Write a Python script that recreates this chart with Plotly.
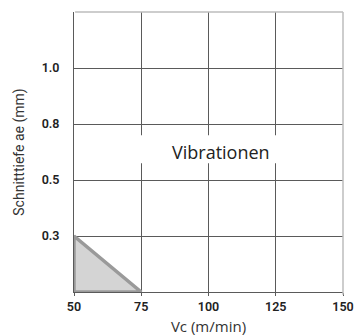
import plotly.graph_objects as go

# Cutting speed axis (m/min)
vc_ticks = [50, 75, 100, 125, 150]

# Cutting depth levels (mm), shown on an evenly spaced scale
depth_levels = [0.3, 0.5, 0.8, 1.0]
depth_labels = ["0.3", "0.5", "0.8", "1.0"]
depth_pos = [1, 2, 3, 4]

# Recommended working zone (triangle)
zone_vc = [50, 50, 75, 50]
zone_depth = [0.0, 0.3, 0.0, 0.0]


def depth_to_pos(d):
    if d <= 0:
        return 0
    return depth_pos[depth_levels.index(d)]


zone_y = [depth_to_pos(d) for d in zone_depth]

grid = "#5a5a5a"
frame_light = "#bdbdbd"

fig = go.Figure()
fig.add_trace(go.Scatter(
    x=zone_vc, y=zone_y, mode="lines", fill="toself",
    fillcolor="#d4d4d4", line=dict(color="#9a9a9a", width=3.5),
    hoverinfo="skip", showlegend=False,
))

fig.update_layout(
    width=356, height=336,
    margin=dict(l=74, r=13, t=12, b=44),
    paper_bgcolor="white", plot_bgcolor="white",
    font=dict(family="Roboto", color="#333"),
    xaxis=dict(
        range=[50, 150], tickvals=vc_ticks, ticktext=[str(v) for v in vc_ticks],
        automargin=False,
        showgrid=True, gridcolor=grid, gridwidth=1, zeroline=False,
        showline=True, linecolor=grid, linewidth=1,
        ticks="outside", ticklen=3, tickcolor=grid,
        tickfont=dict(family="Roboto", size=12.5, color="#222", weight=600),
        title=dict(text="Vc (m/min)", font=dict(family="Open Sans", size=15, color="#333"),
                   standoff=8),
    ),
    yaxis=dict(
        range=[0, 5], tickvals=depth_pos, ticktext=depth_labels,
        automargin=False,
        showgrid=True, gridcolor=grid, gridwidth=1, zeroline=False,
        showline=True, linecolor=grid, linewidth=1,
        ticks="", ticklabelstandoff=11,
        tickfont=dict(family="Roboto", size=12.5, color="#222", weight=600),
        title=dict(text="Schnitttiefe ae (mm)", font=dict(family="Roboto", size=14, color="#333"),
                   standoff=13),
    ),
    shapes=[
        # light top and right frame
        dict(type="line", xref="paper", yref="paper", x0=0.004, x1=1, y0=1, y1=1,
             line=dict(color=frame_light, width=1.5), layer="above"),
        dict(type="line", xref="paper", yref="paper", x0=1, x1=1, y0=-0.01, y1=1,
             line=dict(color=frame_light, width=1.5), layer="above"),
        # white backing behind the label
        dict(type="rect", xref="x", yref="y", x0=72.5, x1=133, y0=2.3, y1=2.8,
             fillcolor="white", line=dict(width=0), layer="above"),
    ],
    annotations=[
        dict(text="Vibrationen", x=85.5, y=2.5, xref="x", yref="y",
             xanchor="left", yanchor="middle", showarrow=False,
             font=dict(family="Open Sans", size=18, color="#222")),
    ],
)

fig.write_html("out.html")
